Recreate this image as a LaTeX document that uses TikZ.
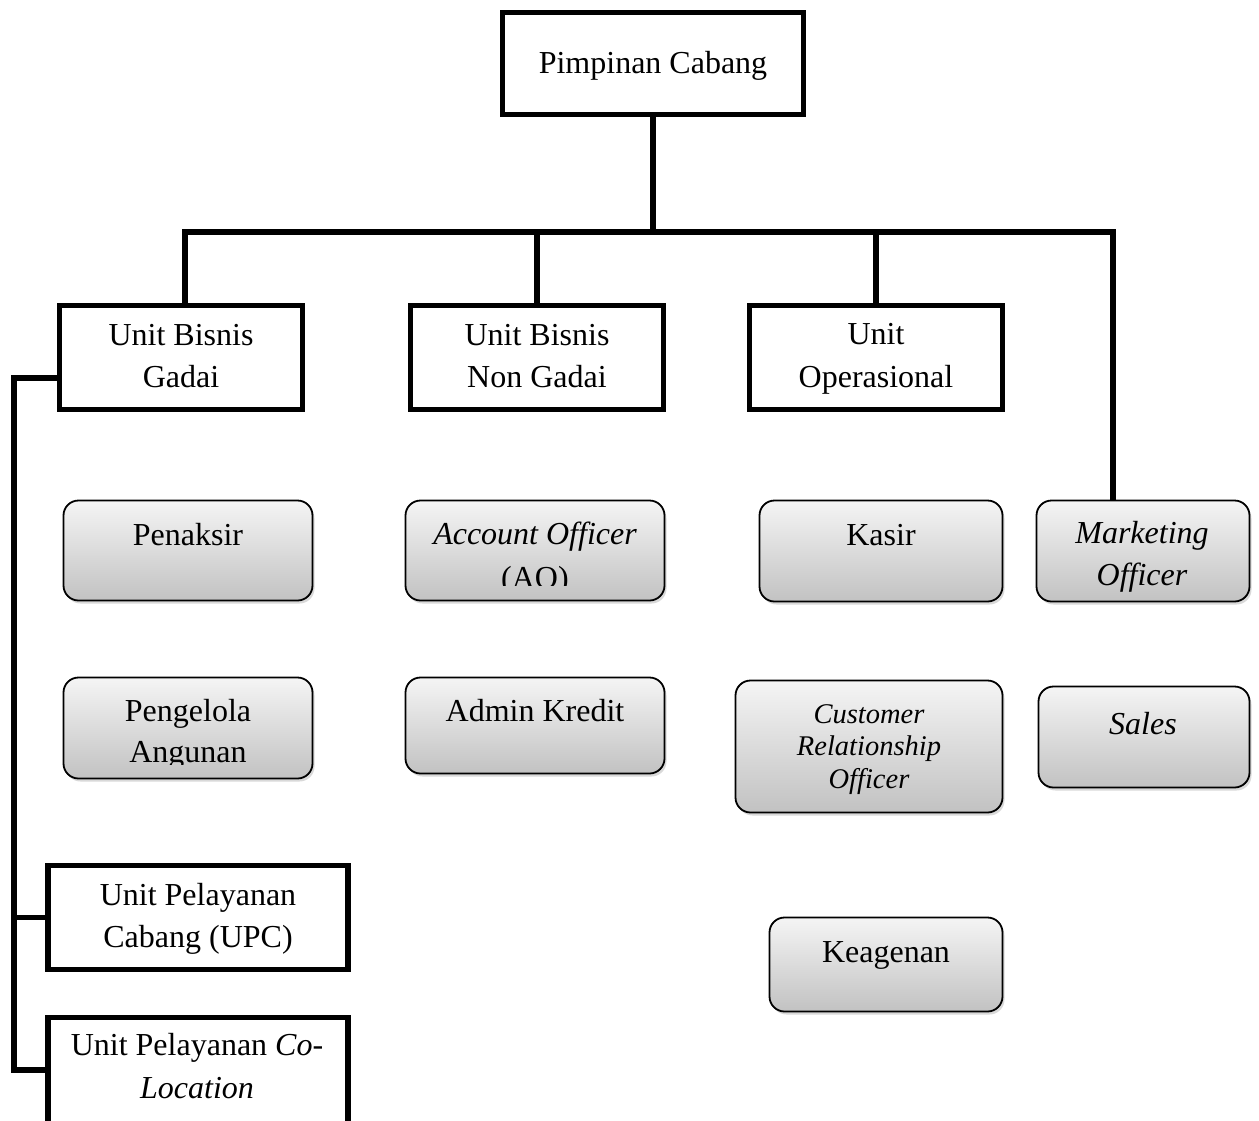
\documentclass[tikz,border=0pt]{standalone}
\usepackage{fontspec}
\setmainfont{Liberation Serif}
\usetikzlibrary{shadows,calc}
\begin{document}
\begin{tikzpicture}[x=1pt,y=-1pt,
  sq/.style={draw=black,line width=5.5pt,fill=white,rectangle,inner sep=0pt,line join=miter},
  rb/.style={draw=black,line width=1.8pt,rounded corners=15pt,top color=black!4,bottom color=black!24,inner sep=0pt,
    drop shadow={shadow xshift=2pt,shadow yshift=-3pt,opacity=0.3}},
  conn/.style={line width=5.5pt,line join=miter},
  tx/.style={anchor=base,inner sep=0pt,font=\fontsize{32}{32}\selectfont},
  ti/.style={anchor=base,inner sep=0pt,font=\fontsize{32}{32}\selectfont\itshape},
  ts/.style={anchor=base,inner sep=0pt,font=\fontsize{28.5}{28.5}\selectfont\itshape}]
\useasboundingbox (0,0) rectangle (1259,1120);
\clip (0,0) rectangle (1259,1120);

% square boxes
\node[sq,minimum width=301pt,minimum height=102pt] (pc) at (653,63.5) {};
\node[sq,minimum width=243pt,minimum height=104pt] (g) at (181,357.5) {};
\node[sq,minimum width=253pt,minimum height=104pt] (ng) at (537,357.5) {};
\node[sq,minimum width=253pt,minimum height=104pt] (op) at (876,357.5) {};
\node[sq,minimum width=300pt,minimum height=104pt] (upc) at (198,917.5) {};
\node[sq,minimum width=300pt,minimum height=130pt] (cl) at (198,1082.5) {};

% rounded boxes
\node[rb,minimum width=249pt,minimum height=100pt] (pen) at (188,550.5) {};
\node[rb,minimum width=259pt,minimum height=100pt] (ao) at (535,550.5) {};
\node[rb,minimum width=243pt,minimum height=101pt] (kas) at (881,551) {};
\node[rb,minimum width=213pt,minimum height=101pt] (mo) at (1143,551) {};
\node[rb,minimum width=249pt,minimum height=101pt] (peng) at (188,728) {};
\node[rb,minimum width=259pt,minimum height=96pt] (adm) at (535,725.5) {};
\node[rb,minimum width=267pt,minimum height=132pt] (cro) at (869,746.5) {};
\node[rb,minimum width=211pt,minimum height=101pt] (sales) at (1144,737) {};
\node[rb,minimum width=233pt,minimum height=94pt] (kea) at (886,964.5) {};

% connectors
\coordinate (hL) at (185,232);
\coordinate (hR) at (1113,232);
\coordinate (bT) at (14,378);
\coordinate (bB) at (14,1070);
\draw[conn] (pc.south) -- (pc.south |- hL);
\draw[conn] (hL |- g.north) -- (hL) -- (hR) -- (hR |- mo.north);
\draw[conn] (ng.north |- hL) -- (ng.north);
\draw[conn] (op.north |- hL) -- (op.north);
\draw[conn] (bT -| g.west) -- (bT) -- (bB) -- (bB -| cl.west);
\draw[conn] (upc.west) -- (upc.west -| bT);

% texts
\node[tx] (tpc) at (653,73) {Pimpinan Cabang};
\node[tx] (tg1) at (181,345) {Unit Bisnis};
\node[tx] (tg2) at (181,387) {Gadai};
\node[tx] (tng1) at (537,345) {Unit Bisnis};
\node[tx] (tng2) at (537,387) {Non Gadai};
\node[tx] (top1) at (876,344) {Unit};
\node[tx] (top2) at (876,387) {Operasional};
\node[tx] (tupc1) at (198,905) {Unit Pelayanan};
\node[tx] (tupc2) at (198,947) {Cabang (UPC)};
\node[tx] (tcl1) at (197,1055) {Unit Pelayanan \textit{Co-}};
\node[ti] (tcl2) at (197,1098) {Location};
\node[tx] (tpen) at (188,545) {Penaksir};
\begin{scope}
\clip (ao.north west) rectangle ([yshift=16pt]ao.south east);
\node[ti] (tao1) at (535,544) {Account Officer};
\node[tx] (tao2) at (535,588) {(AO)};
\end{scope}
\node[tx] (tkas) at (881,545) {Kasir};
\node[ti] (tmo1) at (1142,543) {Marketing};
\node[ti] (tmo2) at (1142,585) {Officer};
\begin{scope}
\clip (peng.north west) rectangle ([yshift=15pt]peng.south east);
\node[tx] (tpeng1) at (188,721) {Pengelola};
\node[tx] (tpeng2) at (188,762) {Angunan};
\end{scope}
\node[tx] (tadm) at (535,721) {Admin Kredit};
\node[ts] (tcro1) at (869,723) {Customer};
\node[ts] (tcro2) at (869,755) {Relationship};
\node[ts] (tcro3) at (869,788) {Officer};
\node[ti] (tsales) at (1143,734) {Sales};
\node[tx] (tkea) at (886,962) {Keagenan};
\end{tikzpicture}
\end{document}
